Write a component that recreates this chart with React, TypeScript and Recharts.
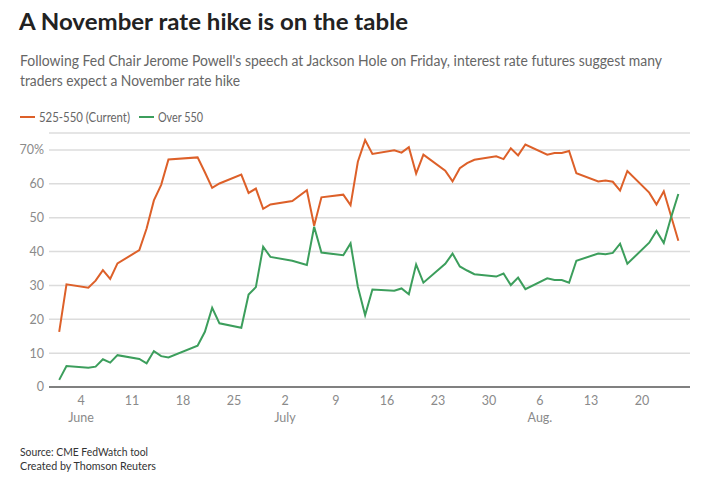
import { CartesianGrid, Line, LineChart, XAxis, YAxis } from 'recharts'

// trading days, June 1 – Aug 25, 2023
const tradeDates = [
  '06-01', '06-02', '06-05', '06-06', '06-07', '06-08', '06-09', '06-12', '06-13', '06-14',
  '06-15', '06-16', '06-20', '06-21', '06-22', '06-23', '06-26', '06-27', '06-28', '06-29',
  '06-30', '07-03', '07-05', '07-06', '07-07', '07-10', '07-11', '07-12', '07-13', '07-14',
  '07-17', '07-18', '07-19', '07-20', '07-21', '07-24', '07-25', '07-26', '07-27', '07-28',
  '07-31', '08-01', '08-02', '08-03', '08-04', '08-07', '08-08', '08-09', '08-10', '08-11',
  '08-14', '08-15', '08-16', '08-17', '08-18', '08-21', '08-22', '08-23', '08-24', '08-25',
]

// probability (%) of 525-550 target range
const current = [
  16.3, 30.3, 29.3, 31.4, 34.5, 31.9, 36.5, 40.4, 46.8, 55.1,
  59.7, 67.2, 67.8, 63.4, 58.8, 60.1, 62.7, 57.3, 58.6, 52.6,
  53.9, 54.9, 58.1, 47.6, 56.0, 56.8, 53.7, 66.5, 72.9, 68.8,
  69.9, 69.2, 70.8, 63.0, 68.6, 63.9, 60.7, 64.6, 66.1, 67.1,
  68.1, 67.3, 70.5, 68.4, 71.6, 68.6, 69.1, 69.1, 69.7, 63.1,
  60.7, 61.0, 60.6, 58.0, 63.8, 57.4, 53.9, 57.8, 50.5, 43.2,
]

// probability (%) of over 550
const over550 = [
  2.1, 6.2, 5.7, 6.0, 8.2, 7.2, 9.4, 8.3, 7.0, 10.6,
  9.1, 8.7, 12.2, 16.3, 23.4, 18.8, 17.5, 27.3, 29.5, 41.4,
  38.4, 37.3, 36.0, 47.3, 39.7, 38.9, 42.4, 29.6, 21.2, 28.8,
  28.4, 29.1, 27.4, 36.2, 30.8, 36.4, 39.4, 35.6, 34.4, 33.3,
  32.6, 33.5, 30.1, 32.3, 28.9, 32.1, 31.6, 31.6, 30.8, 37.3,
  39.4, 39.2, 39.6, 42.3, 36.4, 42.6, 46.1, 42.5, 50.1, 57.0,
]

const yTicks = [0, 10, 20, 30, 40, 50, 60, 70]
// days since June 1
const xTickDays = [3, 10, 17, 24, 31, 38, 45, 52, 59, 66, 73, 80]
const xTickLabels = ['4', '11', '18', '25', '2', '9', '16', '23', '30', '6', '13', '20']
const monthTickDays = [3, 31, 66]
const monthNames = ['June', 'July', 'Aug.']

const FONT = 'Lato, "Noto Sans", sans-serif'
const ORANGE = '#dd6029'
const GREEN = '#3c9e5c'

function dayIndex(md: string): number {
  const [m, d] = md.split('-').map(Number)
  return Math.round((Date.UTC(2023, m - 1, d) - Date.UTC(2023, 5, 1)) / 86400000)
}

const data = tradeDates.map((md, i) => ({
  day: dayIndex(md),
  current: current[i],
  over: over550[i],
}))

function DayTick(props: any) {
  const { x, y, payload } = props
  const i = xTickDays.indexOf(payload.value)
  const m = monthTickDays.indexOf(payload.value)
  return (
    <g>
      <text x={x} y={y} dy={18} textAnchor="middle" fill="#8a8a8a" fontSize={12.5} fontFamily={FONT}>
        {xTickLabels[i]}
      </text>
      {m >= 0 ? (
        <text x={x} y={y} dy={35} textAnchor="middle" fill="#8a8a8a" fontSize={12.5} fontFamily={FONT}>
          {monthNames[m]}
        </text>
      ) : null}
    </g>
  )
}

function Header() {
  return (
    <svg
      width={702}
      height={481}
      style={{ position: 'absolute', left: 0, top: 0, pointerEvents: 'none' }}
    >
      <text x={19} y={30} fontSize={22} fontWeight={700} fill="#222" fontFamily={FONT}
        textLength={389} lengthAdjust="spacingAndGlyphs">
        A November rate hike is on the table
      </text>
      <text x={20} y={66} fontSize={14.5} fill="#666" fontFamily={FONT}
        textLength={642} lengthAdjust="spacingAndGlyphs">
        Following Fed Chair Jerome Powell's speech at Jackson Hole on Friday, interest rate futures suggest many
      </text>
      <text x={20} y={86} fontSize={14.5} fill="#666" fontFamily={FONT}
        textLength={220} lengthAdjust="spacingAndGlyphs">
        traders expect a November rate hike
      </text>

      <line x1={20} x2={35} y1={117} y2={117} stroke={ORANGE} strokeWidth={2} />
      <text x={39} y={121.5} fontSize={12.5} fill="#666" fontFamily={FONT}
        textLength={91} lengthAdjust="spacingAndGlyphs">
        525-550 (Current)
      </text>
      <line x1={139} x2={154} y1={117} y2={117} stroke={GREEN} strokeWidth={2} />
      <text x={158} y={121.5} fontSize={12.5} fill="#666" fontFamily={FONT}
        textLength={45} lengthAdjust="spacingAndGlyphs">
        Over 550
      </text>

      <text x={20} y={456} fontSize={11} fill="#333" fontFamily={FONT}
        textLength={128} lengthAdjust="spacingAndGlyphs">
        Source: CME FedWatch tool
      </text>
      <text x={20} y={470} fontSize={11} fill="#333" fontFamily={FONT}
        textLength={136} lengthAdjust="spacingAndGlyphs">
        Created by Thomson Reuters
      </text>
    </svg>
  )
}

export default function App() {
  return (
    <div style={{ position: 'absolute', left: 0, top: 0, width: 702, height: 481, background: '#fff' }}>
      <LineChart
        width={702}
        height={481}
        data={data}
        margin={{ top: 133, right: 12, left: 0, bottom: 0 }}
      >
        <CartesianGrid vertical={false} stroke="#dcdcdc" strokeWidth={1.5} />
        <XAxis
          dataKey="day"
          type="number"
          domain={[-1.4, 86.6]}
          allowDataOverflow
          ticks={xTickDays}
          tick={DayTick}
          tickLine={false}
          tickSize={0}
          tickMargin={0}
          axisLine={{ stroke: '#808080', strokeWidth: 2 }}
          height={94}
        />
        <YAxis
          type="number"
          domain={[0, 75]}
          allowDataOverflow
          ticks={yTicks}
          width={49}
          axisLine={false}
          tickLine={false}
          tickSize={0}
          tickMargin={5}
          tickFormatter={(v: number) => (v === 70 ? '70%' : String(v))}
          tick={{ fill: '#8a8a8a', fontSize: 12.5, fontFamily: FONT }}
        />
        <Line
          type="linear"
          dataKey="current"
          stroke={ORANGE}
          strokeWidth={2}
          dot={false}
          activeDot={false}
          isAnimationActive={false}
        />
        <Line
          type="linear"
          dataKey="over"
          stroke={GREEN}
          strokeWidth={2}
          dot={false}
          activeDot={false}
          isAnimationActive={false}
        />
      </LineChart>
      <Header />
    </div>
  )
}
